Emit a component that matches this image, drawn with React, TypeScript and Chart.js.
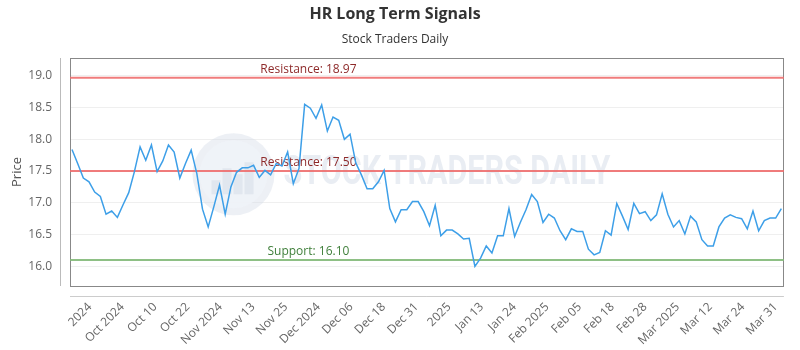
import React, { useEffect, useRef } from 'react';
import { Chart, registerables } from 'chart.js';

Chart.register(...registerables);

const prices = [
  17.84, 17.62, 17.39, 17.33, 17.17, 17.10, 16.82, 16.87, 16.77, 16.97,
  17.16, 17.49, 17.88, 17.67, 17.91, 17.49, 17.66, 17.91, 17.80, 17.39,
  17.62, 17.83, 17.46, 16.90, 16.62, 16.94, 17.28, 16.82, 17.25, 17.48,
  17.55, 17.55, 17.59, 17.40, 17.51, 17.44, 17.62, 17.58, 17.80, 17.30,
  17.54, 18.55, 18.49, 18.33, 18.54, 18.13, 18.35, 18.30, 18.00, 18.08,
  17.63, 17.44, 17.22, 17.22, 17.33, 17.51, 16.91, 16.70, 16.89, 16.89,
  17.02, 17.02, 16.86, 16.64, 16.96, 16.48, 16.57, 16.57, 16.51, 16.43,
  16.44, 16.00, 16.13, 16.32, 16.21, 16.48, 16.48, 16.91, 16.47, 16.69,
  16.89, 17.13, 17.02, 16.69, 16.82, 16.76, 16.56, 16.42, 16.59, 16.55,
  16.55, 16.27, 16.18, 16.22, 16.56, 16.49, 16.99, 16.79, 16.58, 16.99,
  16.83, 16.86, 16.72, 16.81, 17.14, 16.82, 16.62, 16.72, 16.51, 16.79,
  16.70, 16.42, 16.32, 16.32, 16.62, 16.76, 16.81, 16.77, 16.75, 16.59,
  16.87, 16.56, 16.72, 16.76, 16.76, 16.91,
];

const tickLabels = [
  '2024', 'Oct 2024', 'Oct 10', 'Oct 22', 'Nov 2024', 'Nov 13', 'Nov 25',
  'Dec 2024', 'Dec 06', 'Dec 18', 'Dec 31', '2025', 'Jan 13', 'Jan 24',
  'Feb 2025', 'Feb 05', 'Feb 18', 'Feb 28', 'Mar 2025', 'Mar 12', 'Mar 24', 'Mar 31',
];

const levelValues = [18.97, 17.5, 16.1];
const levelKinds = ['Resistance', 'Resistance', 'Support'];

const TITLE = 'HR Long Term Signals';
const SUBTITLE = 'Stock Traders Daily';
const WATERMARK = 'STOCK TRADERS DAILY';

const TICK_START = 3.15;
const TICK_STEP = 5.755;

const FONT = "'Open Sans', 'Noto Sans', sans-serif";

const framePlugin = {
  id: 'frameAndLevels',
  beforeDatasetsDraw(chart: any) {
    const { ctx, chartArea: a, scales } = chart;
    const y = scales.y;
    ctx.save();
    // watermark
    const cx = a.left + (a.right - a.left) * 0.229;
    const cy = a.top + (a.bottom - a.top) * 0.51;
    ctx.beginPath();
    ctx.arc(cx, cy, 41, 0, Math.PI * 2);
    ctx.fillStyle = 'rgba(215,222,232,0.45)';
    ctx.fill();
    ctx.beginPath();
    ctx.arc(cx, cy, 34, 0, Math.PI * 2);
    ctx.fillStyle = 'rgba(240,243,248,0.9)';
    ctx.fill();
    ctx.fillStyle = 'rgba(215,222,232,0.6)';
    const bw = 9;
    const bars = [14, 26, 20, 32];
    bars.forEach((h, i) => {
      ctx.fillRect(cx - 22 + i * 11, cy + 20 - h, bw, h);
    });
    ctx.font = `bold 40px 'Roboto', sans-serif`;
    ctx.textBaseline = 'middle';
    ctx.textAlign = 'left';
    const tw = ctx.measureText(WATERMARK).width;
    const targetW = 327;
    ctx.translate(cx + 50, cy);
    ctx.scale(targetW / tw, 1);
    ctx.fillStyle = 'rgba(212,220,232,0.5)';
    ctx.fillText(WATERMARK, 0, 0);
    ctx.restore();

    ctx.save();
    // frame
    ctx.strokeStyle = '#888';
    ctx.lineWidth = 1;
    ctx.strokeRect(Math.round(a.left) + 0.5, Math.round(a.top) + 0.5, Math.round(a.right - a.left) - 1, Math.round(a.bottom - a.top));
    // detached axis lines
    ctx.strokeStyle = '#bbb';
    ctx.beginPath();
    ctx.moveTo(Math.round(a.left) - 9.5, a.top);
    ctx.lineTo(Math.round(a.left) - 9.5, a.bottom);
    ctx.stroke();
    ctx.strokeStyle = '#ccc';
    ctx.beginPath();
    ctx.moveTo(a.left, Math.round(a.bottom) + 10.5);
    ctx.lineTo(a.right, Math.round(a.bottom) + 10.5);
    ctx.stroke();

    // level lines
    levelValues.forEach((v, i) => {
      const py = y.getPixelForValue(v);
      const isRes = levelKinds[i] === 'Resistance';
      ctx.strokeStyle = isRes ? 'rgba(238,110,110,0.9)' : 'rgba(130,185,120,0.9)';
      ctx.lineWidth = 2;
      ctx.beginPath();
      ctx.moveTo(a.left, py);
      ctx.lineTo(a.right, py);
      ctx.stroke();
      ctx.font = `12px ${FONT}`;
      ctx.textAlign = 'center';
      ctx.textBaseline = 'bottom';
      ctx.fillStyle = isRes ? '#8e2a2a' : '#3f7f3a';
      const lx = a.left + (a.right - a.left) * 0.334;
      ctx.fillText(`${levelKinds[i]}: ${v.toFixed(2)}`, lx, py - 2);
    });
    ctx.restore();
  },
};

export default function App() {
  const ref = useRef<HTMLCanvasElement | null>(null);
  useEffect(() => {
    if (!ref.current) return;
    const chart = new Chart(ref.current, {
      type: 'line',
      data: {
        datasets: [
          {
            label: 'Price',
            data: prices.map((p, i) => ({ x: i, y: p })),
            borderColor: '#3d9fe8',
            borderWidth: 1.5,
            pointRadius: 0,
            tension: 0,
            fill: false,
          },
        ],
      },
      options: {
        animation: false,
        responsive: true,
        maintainAspectRatio: false,
        layout: { padding: { left: 0, right: 10, top: 0, bottom: 0 } },
        plugins: {
          legend: { display: false },
          tooltip: { enabled: false },
          title: {
            display: true,
            text: TITLE,
            color: '#333',
            font: { family: FONT, size: 16, weight: 'bold', lineHeight: 1.2 },
            padding: { top: 5, bottom: 4 },
          },
          subtitle: {
            display: true,
            text: SUBTITLE,
            color: '#333',
            font: { family: FONT, size: 12, lineHeight: 1.2 },
            padding: { top: 4.6, bottom: 10.8 },
          },
        },
        scales: {
          x: {
            type: 'linear',
            min: -0.35,
            max: 125.45,
            afterBuildTicks: (scale: any) => {
              scale.ticks = tickLabels.map((_, j) => ({ value: TICK_START + j * TICK_STEP }));
            },
            afterFit: (scale: any) => {
              scale.height = 64;
            },
            grid: { display: false, drawTicks: false },
            border: { display: false },
            ticks: {
              autoSkip: false,
              minRotation: 45,
              maxRotation: 45,
              padding: 14,
              color: '#666',
              font: { family: FONT, size: 12 },
              callback: (_v: any, idx: number) => tickLabels[idx],
            },
          },
          y: {
            min: 15.69,
            max: 19.28,
            afterFit: (scale: any) => {
              scale.width = 70;
            },
            grid: { color: '#efefef', drawTicks: false },
            border: { display: false },
            title: {
              display: true,
              text: 'Price',
              color: '#555',
              font: { family: FONT, size: 13 },
              padding: { top: 9, bottom: 0 },
            },
            ticks: {
              stepSize: 0.5,
              includeBounds: false,
              padding: 18,
              color: '#666',
              font: { family: FONT, size: 12 },
              callback: (v: any) => Number(v).toFixed(1),
            },
          },
        },
      },
      plugins: [framePlugin],
    });
    return () => chart.destroy();
  }, []);
  return (
    <div style={{ position: 'absolute', left: 0, top: 0, width: 800, height: 350, background: '#fff' }}>
      <canvas ref={ref} />
    </div>
  );
}
